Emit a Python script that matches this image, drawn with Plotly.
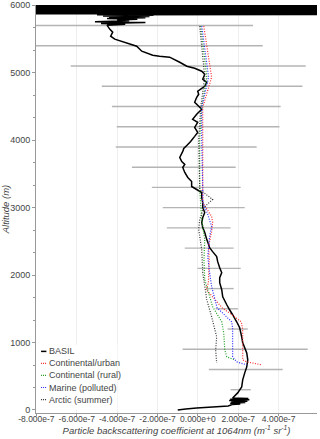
import plotly.graph_objects as go

SCALE = 1e-7  # all x values below are in units of 1e-7 m-1 sr-1

# BASIL lidar profile (top -> bottom)
basil_alt = [6000, 5992, 5984, 5976, 5968, 5960, 5952, 5944, 5936, 5928, 5920, 5912, 5904, 5896, 5888, 5880, 5872,
             5862, 5852, 5843, 5834, 5825, 5815, 5805, 5795, 5783, 5770, 5757, 5744, 5731, 5718, 5705,
             5692, 5647, 5602, 5543, 5498, 5394, 5320, 5260, 5245, 5231, 5156, 5097, 5067, 5023, 4978, 4904,
             4859, 4800, 4770, 4726, 4681, 4636, 4562, 4503, 4458, 4384, 4309, 4265, 4190, 4116, 4057, 3982,
             3923, 3878, 3834, 3745, 3685, 3641, 3596, 3522, 3448, 3388, 3314, 3269, 3225, 3150, 3076, 3002,
             2927, 2853, 2779, 2705, 2630, 2526, 2452, 2407, 2348, 2274, 2199, 2110, 2036, 1962, 1887, 1783,
             1679, 1560, 1486, 1412, 1308, 1219, 1085, 996, 921, 847, 743, 639, 550, 446, 342, 253, 178,
             170, 160, 150, 140, 130, 120, 110, 100, 90, 80, 60, 45, 30, 15, 0]
basil_val = [300, -300, 300, -300, 300, -300, 300, -300, 300, -300, 300, -300, 300, -300, 300, -300, 300,
             -5.0, -2.2, -4.7, -2.4, -4.4, -2.6, -4.5, -3.0, -4.0, -3.4, -5.1, -2.6, -4.8, -3.6, -4.5,
             -4.47, -4.37, -4.22, -4.32, -4.12, -3.03, -2.78, -2.24, -1.9, -1.40, -0.90, -0.55, -0.16, 0.19, 0.34, 0.24,
             0.44, 0.34, 0.19, -0.01, 0.04, -0.06, -0.16, 0.04, 0.19, -0.06, -0.26, -0.01, -0.16, -0.01, -0.16, -0.36,
             -0.55, -0.70, -0.75, -0.90, -0.80, -0.65, -0.75, -0.65, -0.50, -0.31, -0.31, -0.06, 0.19, 0.19, 0.24, 0.24,
             0.34, 0.24, 0.19, 0.24, 0.34, 0.44, 0.53, 0.58, 0.73, 0.93, 0.98, 1.08, 1.18, 1.08, 1.08, 1.18,
             1.23, 1.43, 1.57, 1.72, 1.92, 2.07, 2.17, 2.22, 2.32, 2.42, 2.47, 2.42, 2.32, 2.22, 2.17, 1.97, 1.72,
             2.5, 1.6, 2.55, 1.55, 2.45, 1.65, 2.35, 1.6, 2.1, 1.7, 1.5, 0.73, -0.06, -0.6, -1.0]

# error bars every 300 m
err_alt = [5700, 5400, 5100, 4800, 4500, 4200, 3900, 3600, 3300, 3000, 2700, 2400, 2100, 1800, 1500, 1200, 900, 600, 300]
err_mid = [-4.47, -3.03, -0.48, 0.21, -0.08, 0.01, -0.58, -0.70, -0.08, 0.29, 0.04, 0.56, 1.05, 1.10, 1.43, 1.97, 2.34, 2.37, 2.12]
err_half = [7.2, 6.24, 5.82, 4.97, 4.18, 4.03, 3.49, 2.57, 2.20, 2.03, 1.58, 1.21, 1.07, 0.67, 0.55, 0.50, 3.10, 1.83, 0.50]

# aerosol model profiles
urban_alt = [5691, 4934, 4488, 4012, 3269, 3076, 2868, 2779, 2645, 2526, 2422, 2229, 1887, 1783, 1516, 1308, 1190, 743, 713, 669]
urban_val = [0.29, 0.68, 0.24, 0.24, 0.24, 0.24, 0.68, 0.73, 0.68, 0.58, 0.53, 0.56, 0.52, 0.42, 1.20, 2.15, 2.22, 2.22, 2.42, 3.16]

rural_alt = [5691, 4934, 4488, 4012, 3269, 3002, 2823, 2526, 2229, 1932, 1531, 1308, 1144, 892, 788, 743]
rural_val = [0.14, 0.44, 0.19, 0.09, 0.09, 0.14, 0.19, 0.34, 0.30, 0.34, 0.73, 1.18, 1.28, 1.33, 1.43, 1.82]

marine_alt = [5691, 4934, 4488, 4012, 3269, 3076, 2898, 2719, 2571, 2422, 2274, 2036, 1828, 1516, 1367, 1308, 1220, 788, 713, 669]
marine_val = [0.19, 0.53, 0.19, 0.19, 0.24, 0.24, 0.49, 0.68, 0.58, 0.53, 0.49, 0.58, 0.68, 0.95, 1.45, 1.67, 1.72, 1.72, 1.92, 2.42]

arctic_alt = [5691, 4934, 4488, 4012, 3269, 3121, 3002, 2823, 2675, 2378, 2036, 1635, 1382, 1085, 892, 698]
arctic_val = [0.09, 0.34, 0.14, 0.04, 0.09, 0.73, 0.29, 0.09, 0.04, 0.19, 0.24, 0.44, 0.68, 0.93, 0.88, 0.93]

x_ticks = [-8, -6, -4, -2, 0, 2, 4]
y_ticks = [0, 1000, 2000, 3000, 4000, 5000, 6000]


def sc(v):
    return [a * SCALE for a in v]


def fmt(v):
    s = '{:.3e}'.format(v * SCALE)
    return s.replace('e-0', 'e-').replace('e+00', 'e+0')


fig = go.Figure()

fig.add_trace(go.Scatter(
    x=sc(err_mid), y=err_alt, mode='markers',
    marker=dict(size=1, color='rgba(0,0,0,0)'),
    error_x=dict(type='data', array=sc(err_half), color='#b4b4b4', thickness=1.4, width=0),
    showlegend=False, hoverinfo='skip'))

fig.add_trace(go.Scatter(x=sc(basil_val), y=basil_alt, mode='lines', name='BASIL',
                         line=dict(color='black', width=1.5, simplify=False)))

models = [
    ('Continental/urban', urban_alt, urban_val, '#ff2a2a'),
    ('Continental (rural)', rural_alt, rural_val, '#1f9e1f'),
    ('Marine (polluted)', marine_alt, marine_val, '#2a2aff'),
    ('Arctic (summer)', arctic_alt, arctic_val, '#333333'),
]
for name, alt, val, col in models:
    fig.add_trace(go.Scatter(x=sc(val), y=alt, mode='lines', name=name,
                             line=dict(color=col, width=1.2, dash='1px,1.5px')))

# compact legend box in the lower-left corner (plotly's own legend rows are too tall here)
legend_items = [('BASIL', 'black', 'solid')] + [(m[0], m[3], 'dot') for m in models]
shapes = [dict(type='rect', xref='paper', yref='paper', x0=0.0, x1=0.29, y0=0.008, y1=0.167,
               fillcolor='white', line=dict(width=0), layer='above')]
annotations = []
for i, (name, col, dash) in enumerate(legend_items):
    yy = 0.151 - i * 0.0295
    shapes.append(dict(type='line', xref='paper', yref='paper', x0=0.018, x1=0.037, y0=yy, y1=yy,
                       line=dict(color=col, width=1.5 if dash == 'solid' else 1.2,
                                 dash='solid' if dash == 'solid' else '1px,1px'), layer='above'))
    annotations.append(dict(text=name, xref='paper', yref='paper', x=0.039, y=yy, xanchor='left',
                            yanchor='middle', showarrow=False, font=dict(size=9, color='#444')))

fig.update_layout(
    width=320, height=439,
    margin=dict(l=36, r=3, t=5, b=26),
    plot_bgcolor='white', paper_bgcolor='white',
    font=dict(family='Liberation Sans, Arial, sans-serif', size=9, color='#444'),
    showlegend=False,
    shapes=shapes, annotations=annotations,
    xaxis=dict(range=[-8.02e-7, 5.9e-7], tickvals=sc(x_ticks), ticktext=[fmt(v) for v in x_ticks],
               tickangle=0, showgrid=True, gridcolor='#eeeeee', zeroline=False, automargin=False,
               showline=True, linecolor='#999', ticks='outside', ticklen=2, tickcolor='#999',
               ticklabelstandoff=-4, tickfont=dict(size=8.5),
               title=dict(text='<i>Particle backscattering coefficient at 1064nm (m<sup>-1</sup> sr<sup>-1</sup>)</i>',
                          font=dict(size=9.5), standoff=1)),
    yaxis=dict(range=[-45, 6005], tickvals=y_ticks, automargin=False,
               showgrid=False, zeroline=False, showline=True, linecolor='#999',
               ticks='outside', ticklen=3, tickcolor='#999', tickfont=dict(size=9),
               minor=dict(dtick=333.33, ticks='outside', ticklen=2, tickcolor='#999'),
               title=dict(text='<i>Altitude (m)</i>', font=dict(size=9.5), standoff=4)),
)

fig.write_html("out.html", config={'displayModeBar': False},
               post_script="document.body.style.margin='0px';")
